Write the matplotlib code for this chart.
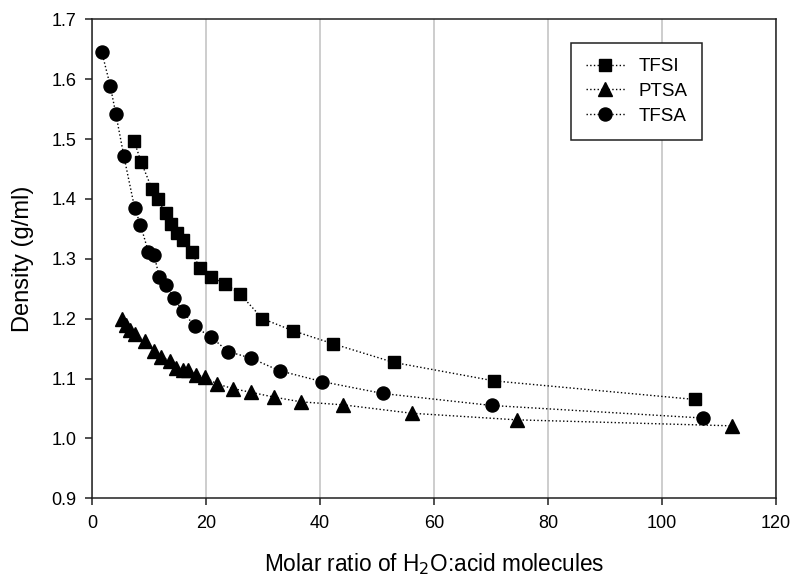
import numpy as np
import matplotlib
matplotlib.use("Agg")
import matplotlib.pyplot as plt

plt.rcParams['font.family'] = ['Liberation Sans', 'DejaVu Sans']

# values
tfsi_x = [7.4, 8.65, 10.5, 11.5, 12.9, 13.9, 14.9, 15.9, 17.5, 18.9, 20.9, 23.4,
          25.9, 29.9, 35.2, 42.3, 52.9, 70.6, 105.8]
tfsi_y = [1.496, 1.461, 1.417, 1.400, 1.377, 1.358, 1.343, 1.331, 1.311, 1.285,
          1.270, 1.258, 1.242, 1.200, 1.180, 1.158, 1.127, 1.096, 1.065]

ptsa_x = [5.35, 5.9, 6.6, 7.6, 9.3, 10.8, 12.05, 13.7, 14.8, 15.9, 16.9, 18.3,
          19.9, 21.9, 24.8, 27.9, 31.9, 36.7, 44.1, 56.1, 74.5, 112.2]
ptsa_y = [1.199, 1.190, 1.181, 1.174, 1.162, 1.146, 1.136, 1.130, 1.117, 1.114,
          1.114, 1.106, 1.102, 1.091, 1.083, 1.077, 1.069, 1.061, 1.056, 1.042,
          1.031, 1.021]

tfsa_x = [1.7, 3.2, 4.2, 5.6, 7.5, 8.5, 9.9, 10.9, 11.8, 12.9, 14.4, 15.9, 18.0,
          20.9, 23.9, 27.9, 32.9, 40.3, 51.0, 70.1, 107.2]
tfsa_y = [1.646, 1.589, 1.541, 1.471, 1.384, 1.357, 1.311, 1.306, 1.270, 1.256,
          1.234, 1.213, 1.187, 1.169, 1.145, 1.134, 1.113, 1.095, 1.075, 1.055,
          1.034]

x_ticks = [0, 20, 40, 60, 80, 100, 120]
y_ticks = [0.9, 1.0, 1.1, 1.2, 1.3, 1.4, 1.5, 1.6, 1.7]

fig = plt.figure(figsize=(8, 5.88), dpi=100)
ax = fig.add_axes([0.115, 0.1526, 0.855, 0.8146])

ax.plot(tfsi_x, tfsi_y, color='black', linestyle=':', lw=1.0, marker='s', ms=8.6, label='TFSI')
ax.plot(ptsa_x, ptsa_y, color='black', linestyle=':', lw=1.0, marker='^', ms=9.4, label='PTSA')
ax.plot(tfsa_x, tfsa_y, color='black', linestyle=':', lw=1.0, marker='o', ms=9.4, label='TFSA')

ax.set_xlim(0, 120)
ax.set_ylim(0.9, 1.7)
ax.set_xticks(x_ticks)
ax.set_yticks(y_ticks)
ax.set_xticklabels([str(t) for t in x_ticks])
ax.set_yticklabels(['%.1f' % t for t in y_ticks])
ax.grid(axis='x', color='#c0c0c0', lw=1.1)
ax.set_axisbelow(True)
ax.tick_params(direction='out', length=5, width=1.1, labelsize=13, color='#202020')
ax.tick_params(axis='x', pad=7)
ax.tick_params(axis='y', pad=6)
for s in ax.spines.values():
    s.set_linewidth(1.1)
    s.set_color('#202020')

ax.set_xlabel('Molar ratio of H$_2$O:acid molecules', fontsize=16.3, labelpad=14)
ax.set_ylabel('Density (g/ml)', fontsize=17, labelpad=13)

leg = ax.legend(loc='upper left', bbox_to_anchor=(0.700, 0.950), fontsize=13.5,
                numpoints=1, handlelength=2.1, handletextpad=0.7, frameon=True,
                fancybox=False, framealpha=1, edgecolor='#202020', borderpad=0.8,
                labelspacing=0.4, borderaxespad=0)
leg.get_frame().set_linewidth(1.1)

fig.savefig('out.png', dpi=100)
